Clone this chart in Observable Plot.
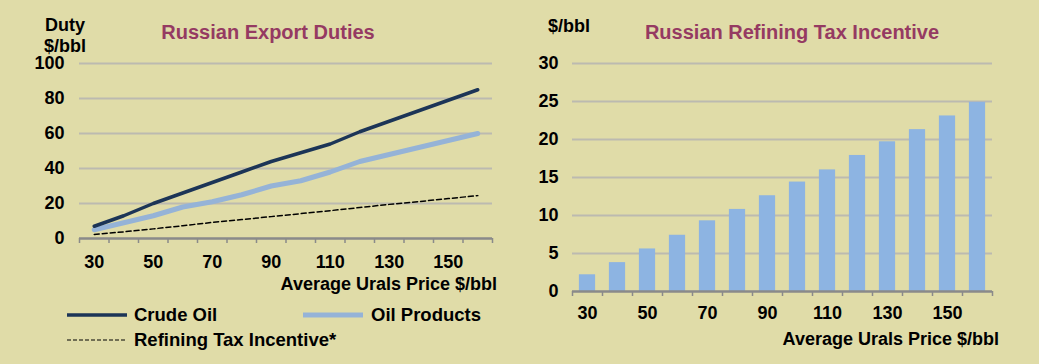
<!DOCTYPE html>
<html>
<head>
<meta charset="utf-8">
<script src="https://cdn.jsdelivr.net/npm/d3@7"></script>
<script src="https://cdn.jsdelivr.net/npm/@observablehq/plot@0.6"></script>
<style>
  html, body { margin: 0; padding: 0; background: #e0dca8; }
  #wrap { position: relative; width: 1039px; height: 364px; overflow: hidden; background: #e0dca8;
          font-family: "Liberation Sans", Arial, sans-serif; font-weight: bold; color: #000; }
  .abs { position: absolute; white-space: nowrap; line-height: 1.15; }
  .title { color: #953a62; font-size: 20px; }
  .lbl { font-size: 18px; }
  .leg { font-size: 18.5px; }
</style>
</head>
<body>
<div id="wrap"></div>
<script>
// ---- data ----
const prices = [30, 40, 50, 60, 70, 80, 90, 100, 110, 120, 130, 140, 150, 160];
const crudeOil = [7, 13, 20, 26, 32, 38, 44, 49, 54, 61, 67, 73, 79, 85];
const oilProducts = [5, 9, 13, 18, 21, 25, 30, 33, 38, 44, 48, 52, 56, 60];
const refiningLine = [2.3, 3.8, 5.5, 7.3, 9.2, 10.8, 12.5, 14.2, 15.9, 17.7, 19.5, 21.1, 22.8, 24.5];
const refiningBars = [2.2, 3.8, 5.6, 7.4, 9.3, 10.8, 12.6, 14.4, 16.0, 17.9, 19.7, 21.3, 23.1, 24.9];
const xTickLabels = [30, 50, 70, 90, 110, 130, 150];
const xBoundaries = [25, 35, 45, 55, 65, 75, 85, 95, 105, 115, 125, 135, 145, 155, 165];
const leftYTicks = [0, 20, 40, 60, 80, 100];
const rightYTicks = [0, 5, 10, 15, 20, 25, 30];

const C_CRUDE = "#1c3557";
const C_PROD = "#95b3d7";
const C_BAR = "#8db4e2";
const C_GRID = "#bcbab0";
const C_AXIS = "#8a8a8a";
const FONT = "Liberation Sans, Arial, sans-serif";

const lineData = prices.map((p, i) => ({p, crude: crudeOil[i], prod: oilProducts[i], ref: refiningLine[i]}));
const barData = prices.map((p, i) => ({p, v: refiningBars[i]}));

const wrap = document.getElementById("wrap");

function place(el, left, top) {
  el.style.position = "absolute";
  el.style.left = left + "px";
  el.style.top = top + "px";
  wrap.appendChild(el);
}

// ---- left chart ----
const left = Plot.plot({
  width: 520, height: 364,
  marginLeft: 79, marginRight: 28, marginTop: 63, marginBottom: 126,
  style: {background: "transparent", fontFamily: FONT, fontSize: "18px", fontWeight: "bold", color: "#000", overflow: "visible"},
  x: {type: "linear", domain: [25, 165]},
  y: {domain: [0, 100]},
  marks: [
    Plot.gridY(leftYTicks.filter(t => t > 0), {stroke: C_GRID, strokeOpacity: 1, strokeWidth: 2}),
    Plot.axisY(leftYTicks, {tickSize: 0, tickPadding: 15, fontSize: 18, fontWeight: "bold", label: null, fill: "#000"}),
    Plot.axisX(xBoundaries, {tickSize: 5, stroke: C_AXIS, strokeWidth: 1.5, tickFormat: () => "", label: null}),
    Plot.axisX(xTickLabels, {tickSize: 0, tickPadding: 17, fontSize: 18, fontWeight: "bold", label: null, fill: "#000"}),
    Plot.ruleY([0], {stroke: C_AXIS, strokeWidth: 2.5}),
    Plot.lineY(lineData, {x: "p", y: "ref", stroke: "#000", strokeWidth: 1.5, strokeDasharray: "5,3"}),
    Plot.lineY(lineData, {x: "p", y: "prod", stroke: C_PROD, strokeWidth: 5, strokeLinecap: "round", strokeLinejoin: "round"}),
    Plot.lineY(lineData, {x: "p", y: "crude", stroke: C_CRUDE, strokeWidth: 3.5, strokeLinecap: "round", strokeLinejoin: "round"})
  ]
});
place(left, 0, 0);

// ---- right chart ----
const right = Plot.plot({
  width: 519, height: 364,
  marginLeft: 52, marginRight: 47, marginTop: 63, marginBottom: 73,
  style: {background: "transparent", fontFamily: FONT, fontSize: "18px", fontWeight: "bold", color: "#000", overflow: "visible"},
  x: {type: "linear", domain: [25, 165]},
  y: {domain: [0, 30]},
  marks: [
    Plot.gridY(rightYTicks.filter(t => t > 0), {stroke: C_GRID, strokeOpacity: 1, strokeWidth: 2}),
    Plot.axisY(rightYTicks, {tickSize: 0, tickPadding: 14, fontSize: 18, fontWeight: "bold", label: null, fill: "#000"}),
    Plot.rectY(barData, {x1: d => d.p - 2.7, x2: d => d.p + 2.7, y: "v", fill: C_BAR}),
    Plot.axisX(xBoundaries, {tickSize: 5, stroke: C_AXIS, strokeWidth: 1.5, tickFormat: () => "", label: null}),
    Plot.axisX(xTickLabels, {tickSize: 0, tickPadding: 15, fontSize: 18, fontWeight: "bold", label: null, fill: "#000"}),
    Plot.ruleY([0], {stroke: C_AXIS, strokeWidth: 2.5})
  ]
});
place(right, 520, 0);

// ---- texts ----
function text(str, cls, left, top, align) {
  const d = document.createElement("div");
  d.className = "abs " + cls;
  d.textContent = str;
  d.style.top = top + "px";
  if (align === "center") { d.style.left = left + "px"; d.style.transform = "translateX(-50%)"; }
  else if (align === "right") { d.style.right = (1039 - left) + "px"; }
  else { d.style.left = left + "px"; }
  wrap.appendChild(d);
  return d;
}

text("Russian Export Duties", "title", 268, 21, "center");
text("Duty", "lbl", 65, 15, "center");
text("$/bbl", "lbl", 65, 36, "center");
text("Average Urals Price $/bbl", "lbl", 497, 274, "right");

text("Russian Refining Tax Incentive", "title", 792, 21, "center");
text("$/bbl", "lbl", 548, 16, "left");
text("Average Urals Price $/bbl", "lbl", 999, 329, "right");

// ---- legend ----
function swatch(x, y, w, color, sw, dash) {
  const ns = "http://www.w3.org/2000/svg";
  const s = document.createElementNS(ns, "svg");
  s.setAttribute("width", w); s.setAttribute("height", 10);
  s.style.position = "absolute"; s.style.left = x + "px"; s.style.top = (y - 5) + "px";
  const l = document.createElementNS(ns, "line");
  l.setAttribute("x1", 0); l.setAttribute("x2", w); l.setAttribute("y1", 5); l.setAttribute("y2", 5);
  l.setAttribute("stroke", color); l.setAttribute("stroke-width", sw);
  if (dash) l.setAttribute("stroke-dasharray", dash);
  s.appendChild(l);
  wrap.appendChild(s);
}
swatch(67, 315, 60, C_CRUDE, 3.5);
text("Crude Oil", "leg", 134, 304, "left");
swatch(303, 315, 60, C_PROD, 5);
text("Oil Products", "leg", 371, 304, "left");
swatch(67, 340, 58, "#000", 1.2, "4,2");
text("Refining Tax Incentive*", "leg", 134, 329, "left");
</script>
</body>
</html>
